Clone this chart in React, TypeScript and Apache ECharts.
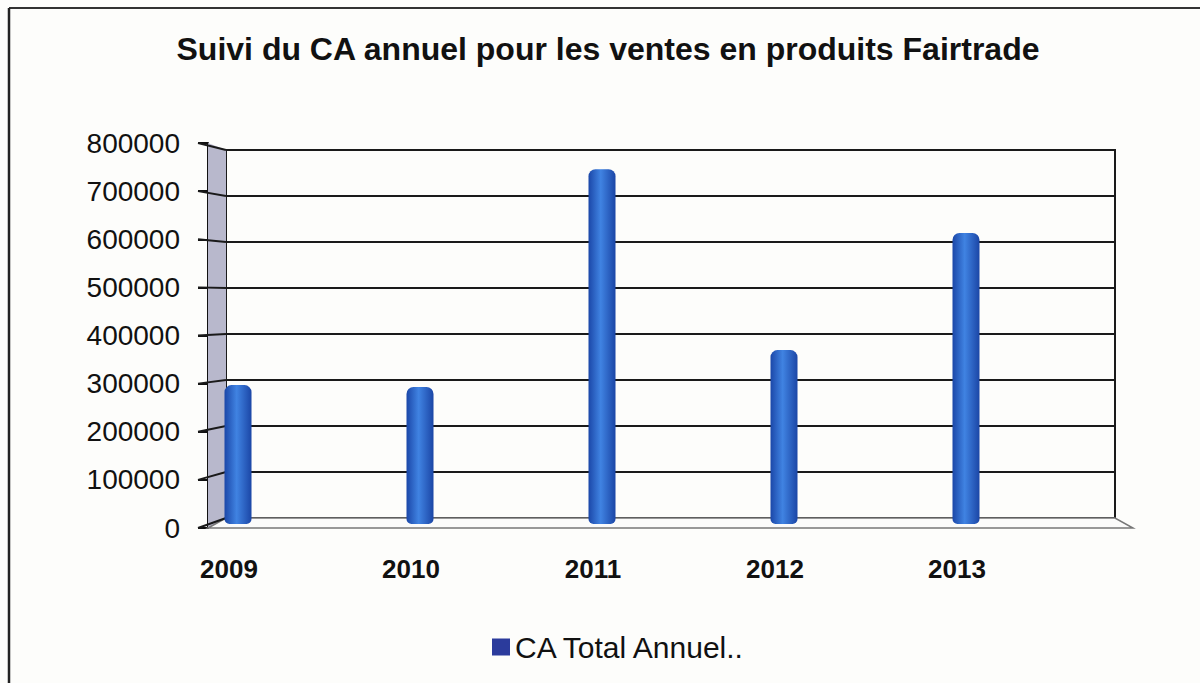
import React, { useEffect, useRef } from "react";
import * as echarts from "echarts";

const titleText = "Suivi du CA annuel pour les ventes en produits Fairtrade";
const years = ["2009", "2010", "2011", "2012", "2013"];
const caValues = [294000, 290000, 751000, 368000, 616000];
const seriesName = "CA Total Annuel..";
const yMin = 0;
const yMax = 800000;
const yStep = 100000;

const FONT = "'Liberation Sans', Arial, Helvetica, sans-serif";

export default function App() {
  const ref = useRef<HTMLDivElement>(null);

  useEffect(() => {
    if (!ref.current) return;
    const chart = echarts.init(ref.current, null, { renderer: "svg" });

    const barColor = new echarts.graphic.LinearGradient(0, 0, 1, 0, [
      { offset: 0, color: "#1b47a8" },
      { offset: 0.45, color: "#4083e2" },
      { offset: 1, color: "#1b46a6" },
    ]);

    chart.setOption({
      animation: false,
      backgroundColor: "#fdfdfb",
      title: {
        text: titleText,
        left: 603,
        textAlign: "center",
        top: 28,
        textStyle: { fontFamily: FONT, fontSize: 32, fontWeight: "bold", color: "#111" },
      },
      legend: {
        left: 487,
        top: 627,
        icon: "rect",
        itemWidth: 18,
        itemHeight: 17,
        data: [{ name: seriesName, itemStyle: { color: "#2b3b9c" } }],
        textStyle: { fontFamily: FONT, fontSize: 30, color: "#111" },
      },
      grid: [
        { left: 226, top: 150, width: 889, height: 368, show: true, borderColor: "#1a1a1a", borderWidth: 2, backgroundColor: "transparent" },
        { left: 147, top: 146, width: 910, height: 378 },
        { left: 208, top: 143, width: 10, height: 385 },
      ],
      xAxis: [
        { type: "category", gridIndex: 0, data: years, show: false },
        {
          type: "category",
          gridIndex: 1,
          data: years,
          axisLine: { show: false },
          axisTick: { show: false },
          axisLabel: {
            margin: 32,
            padding: [0, 18, 0, 0],
            fontFamily: FONT,
            fontSize: 26,
            fontWeight: "bold",
            color: "#111",
          },
        },
        { type: "category", gridIndex: 2, data: years, show: false },
      ],
      yAxis: [
        {
          type: "value",
          gridIndex: 0,
          min: yMin,
          max: yMax,
          interval: yStep,
          axisLabel: { show: false },
          axisLine: { show: false },
          axisTick: { show: false },
          splitLine: { show: true, lineStyle: { color: "#1a1a1a", width: 2 } },
        },
        { type: "value", gridIndex: 1, min: yMin, max: yMax, interval: yStep, show: false },
        {
          type: "value",
          gridIndex: 2,
          min: yMin,
          max: yMax,
          interval: yStep,
          axisLine: { show: true, lineStyle: { color: "#111", width: 2 } },
          axisTick: { show: true, length: 10, lineStyle: { color: "#111", width: 2 } },
          axisLabel: {
            margin: 28,
            fontFamily: FONT,
            fontSize: 28,
            color: "#111",
            formatter: (v: number) => String(v),
          },
          splitLine: { show: false },
        },
      ],
      series: [
        {
          name: seriesName,
          type: "bar",
          xAxisIndex: 1,
          yAxisIndex: 1,
          data: caValues,
          barWidth: 27,
          itemStyle: { color: barColor, borderRadius: [7, 7, 5, 5] },
          z: 5,
        },
      ],
    });

    const ticks: number[] = [];
    for (let v = yMin; v <= yMax; v += yStep) ticks.push(v);
    const fx = 208;
    const bx = 226;
    const fTop = chart.convertToPixel({ yAxisIndex: 2 } as any, yMax) as number;
    const fBot = chart.convertToPixel({ yAxisIndex: 2 } as any, yMin) as number;
    const bTop = chart.convertToPixel({ yAxisIndex: 0 } as any, yMax) as number;
    const bBot = chart.convertToPixel({ yAxisIndex: 0 } as any, yMin) as number;
    const rightBack = 1115;
    const rightFront = 1133;

    const graphics: any[] = [
      {
        type: "polygon",
        shape: { points: [[fx, fTop], [bx, bTop], [bx, bBot], [fx, fBot]] },
        style: { fill: "#b8b8cc", stroke: "none" },
        z: 1,
      },
      {
        type: "polygon",
        shape: { points: [[fx, fBot], [bx, bBot], [rightBack, bBot], [rightFront, fBot]] },
        style: { fill: "#fbfbfa", stroke: "#777", lineWidth: 1.5 },
        z: 1,
      },
      ...ticks.map((v) => ({
        type: "line",
        shape: {
          x1: fx - 10,
          y1: chart.convertToPixel({ yAxisIndex: 2 } as any, v) as number,
          x2: bx,
          y2: chart.convertToPixel({ yAxisIndex: 0 } as any, v) as number,
        },
        style: { stroke: "#1a1a1a", lineWidth: 2 },
        z: 2,
      })),
      {
        type: "line",
        shape: { x1: 9, y1: 8, x2: 1200, y2: 8 },
        style: { stroke: "#333", lineWidth: 2 },
        z: 10,
      },
      {
        type: "line",
        shape: { x1: 9, y1: 8, x2: 9, y2: 683 },
        style: { stroke: "#222", lineWidth: 2.5 },
        z: 10,
      },
    ];
    chart.setOption({ graphic: graphics });

    return () => chart.dispose();
  }, []);

  return (
    <div
      ref={ref}
      style={{ position: "fixed", left: 0, top: 0, width: 1200, height: 683 }}
    />
  );
}
